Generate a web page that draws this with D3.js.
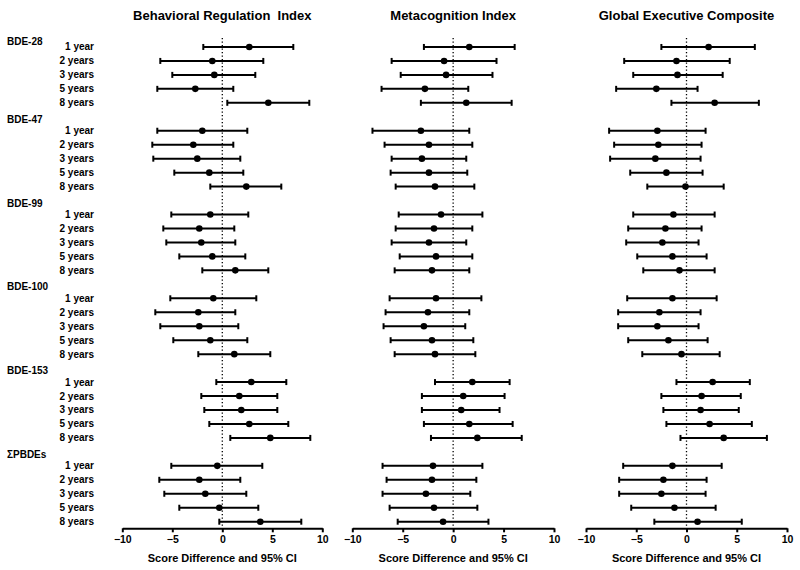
<!DOCTYPE html>
<html>
<head>
<meta charset="utf-8">
<script src="https://cdn.jsdelivr.net/npm/d3@7"></script>
<style>
  body { margin: 0; background: #fff; }
  svg { display: block; font-family: Arial, "Liberation Sans", sans-serif; }
  text { font-weight: bold; fill: #000; white-space: pre; }
</style>
</head>
<body>
<svg id="chart" width="800" height="570"></svg>
<script>
// ---- data ----
const groups = ["BDE-28", "BDE-47", "BDE-99", "BDE-100", "BDE-153", "\u03A3PBDEs"];
const ages = ["1 year", "2 years", "3 years", "5 years", "8 years"];
const panelTitles = ["Behavioral Regulation  Index", "Metacognition Index", "Global Executive Composite"];
const tickValues = [-10, -5, 0, 5, 10];
const axisTitle = "Score Difference and 95% CI";

// [lower CI, estimate, upper CI] per group x age, in order
const behavioralRegulation = [
  [-1.9, 2.7, 7.1], [-6.2, -1.0, 4.1], [-5.0, -0.8, 3.3], [-6.5, -2.7, 1.1], [0.5, 4.6, 8.7],
  [-6.5, -2.0, 2.5], [-7.0, -2.9, 1.1], [-6.9, -2.5, 1.8], [-4.8, -1.3, 2.1], [-1.2, 2.4, 5.9],
  [-5.1, -1.2, 2.6], [-5.9, -2.3, 1.2], [-5.6, -2.1, 1.3], [-4.3, -1.0, 2.3], [-2.0, 1.3, 4.6],
  [-5.2, -0.9, 3.4], [-6.7, -2.4, 1.3], [-6.2, -2.3, 1.6], [-4.9, -1.2, 2.5], [-2.4, 1.2, 4.8],
  [-0.6, 2.9, 6.4], [-2.1, 1.7, 5.5], [-1.8, 1.9, 5.5], [-1.3, 2.7, 6.6], [0.8, 4.8, 8.8],
  [-5.1, -0.5, 4.0], [-6.3, -2.3, 1.8], [-5.8, -1.7, 2.4], [-4.3, -0.3, 3.6], [-0.3, 3.8, 7.9]
];
const metacognition = [
  [-2.9, 1.6, 6.1], [-6.1, -0.9, 4.3], [-5.2, -0.7, 3.9], [-7.1, -2.8, 1.5], [-3.2, 1.3, 5.8],
  [-8.0, -3.2, 1.6], [-6.8, -2.4, 1.9], [-6.1, -3.1, 1.3], [-6.2, -2.4, 1.4], [-5.7, -1.8, 2.1],
  [-5.4, -1.2, 2.9], [-5.7, -1.9, 1.9], [-6.1, -2.4, 1.3], [-5.3, -1.7, 1.9], [-5.8, -2.1, 1.6],
  [-6.3, -1.7, 2.8], [-6.7, -2.5, 1.6], [-6.9, -2.9, 1.2], [-6.2, -2.1, 2.0], [-5.8, -1.8, 2.2],
  [-1.8, 1.9, 5.6], [-3.1, 1.0, 5.1], [-3.1, 0.8, 4.6], [-2.9, 1.6, 5.9], [-2.2, 2.4, 6.8],
  [-7.0, -2.0, 2.9], [-6.6, -2.1, 2.3], [-7.0, -2.7, 1.7], [-6.3, -1.9, 2.4], [-5.5, -1.0, 3.5]
];
const globalExecutive = [
  [-2.5, 2.2, 6.8], [-6.2, -1.0, 4.3], [-5.3, -0.9, 3.6], [-7.0, -3.0, 1.1], [-1.5, 2.8, 7.2],
  [-7.7, -2.9, 1.9], [-7.2, -2.8, 1.5], [-7.6, -3.1, 1.4], [-5.6, -2.0, 1.6], [-3.9, -0.1, 3.7],
  [-5.3, -1.3, 2.8], [-5.8, -2.1, 1.5], [-6.0, -2.4, 1.2], [-4.9, -1.4, 2.0], [-4.3, -0.7, 2.8],
  [-5.9, -1.4, 3.0], [-6.8, -2.7, 1.4], [-6.8, -2.9, 1.2], [-5.8, -1.8, 2.1], [-4.4, -0.5, 3.3],
  [-1.0, 2.6, 6.3], [-2.5, 1.5, 5.4], [-2.3, 1.4, 5.2], [-2.0, 2.3, 6.5], [-0.6, 3.7, 8.0],
  [-6.3, -1.4, 3.5], [-6.7, -2.3, 2.0], [-6.7, -2.5, 1.9], [-5.5, -1.2, 2.9], [-3.2, 1.1, 5.5]
];

// ---- layout ----
const svg = d3.select("#chart");
const panelRanges = [[122.3, 322.3], [352.3, 554], [586, 787]];
const panelData = [behavioralRegulation, metacognition, globalExecutive];
const axisY = 528.3;

// row keys: header + 5 ages per group
const rowKeys = [];
groups.forEach(g => { rowKeys.push(g + "|h"); ages.forEach(a => rowKeys.push(g + "|" + a)); });
const y = d3.scalePoint().domain(rowKeys).range([33, 521.7]);

// group headers
groups.forEach((g, gi) => {
  const yy = gi === 0 ? y(g + "|" + ages[0]) - 5 : y(g + "|" + ages[0]) - 11.5;
  svg.append("text").attr("x", 7).attr("y", yy).attr("dy", "0.35em")
    .style("font-size", "10px").text(g);
});
// age labels
groups.forEach(g => ages.forEach(a => {
  svg.append("text").attr("x", 94).attr("y", y(g + "|" + a)).attr("dy", "0.35em")
    .attr("text-anchor", "end").style("font-size", "10px").text(a);
}));

panelData.forEach((data, pi) => {
  const x = d3.scaleLinear().domain([-10, 10]).range(panelRanges[pi]);
  const g = svg.append("g");

  // title
  g.append("text").attr("x", x(0)).attr("y", 15).attr("dy", "0.35em")
    .attr("text-anchor", "middle").attr("xml:space", "preserve")
    .style("font-size", "13px").text(panelTitles[pi]);

  // zero reference line
  g.append("line").attr("x1", x(0)).attr("x2", x(0)).attr("y1", 38).attr("y2", axisY)
    .attr("stroke", "#000").attr("stroke-width", 1.3).attr("stroke-dasharray", "1.3,2.2");

  const rows = [];
  groups.forEach((gr, gi) => ages.forEach((a, ai) => {
    const d = data[gi * ages.length + ai];
    rows.push({ key: gr + "|" + a, lo: d[0], est: d[1], hi: d[2] });
  }));

  const r = g.selectAll("g.row").data(rows).join("g").attr("class", "row");
  r.append("line").attr("x1", d => x(d.lo)).attr("x2", d => x(d.hi))
    .attr("y1", d => y(d.key)).attr("y2", d => y(d.key))
    .attr("stroke", "#000").attr("stroke-width", 2);
  r.append("line").attr("x1", d => x(d.lo)).attr("x2", d => x(d.lo))
    .attr("y1", d => y(d.key) - 3).attr("y2", d => y(d.key) + 3)
    .attr("stroke", "#000").attr("stroke-width", 2);
  r.append("line").attr("x1", d => x(d.hi)).attr("x2", d => x(d.hi))
    .attr("y1", d => y(d.key) - 3).attr("y2", d => y(d.key) + 3)
    .attr("stroke", "#000").attr("stroke-width", 2);
  r.append("circle").attr("cx", d => x(d.est)).attr("cy", d => y(d.key)).attr("r", 3.3)
    .attr("fill", "#000");

  // axis
  const ax = g.append("g").attr("transform", `translate(0,${axisY})`)
    .call(d3.axisBottom(x).tickValues(tickValues).tickSize(4).tickSizeOuter(0).tickPadding(3.5));
  ax.select(".domain").attr("stroke", "#000").attr("stroke-width", 2);
  ax.selectAll(".tick line").attr("stroke", "#000").attr("stroke-width", 2);
  ax.selectAll(".tick text").style("font-size", "10.5px").style("font-weight", "bold")
    .style("font-family", "Arial, 'Liberation Sans', sans-serif").attr("fill", "#000");

  g.append("text").attr("x", x(0)).attr("y", 558).attr("dy", "0.35em")
    .attr("text-anchor", "middle").style("font-size", "11px").text(axisTitle);
});
</script>
</body>
</html>
